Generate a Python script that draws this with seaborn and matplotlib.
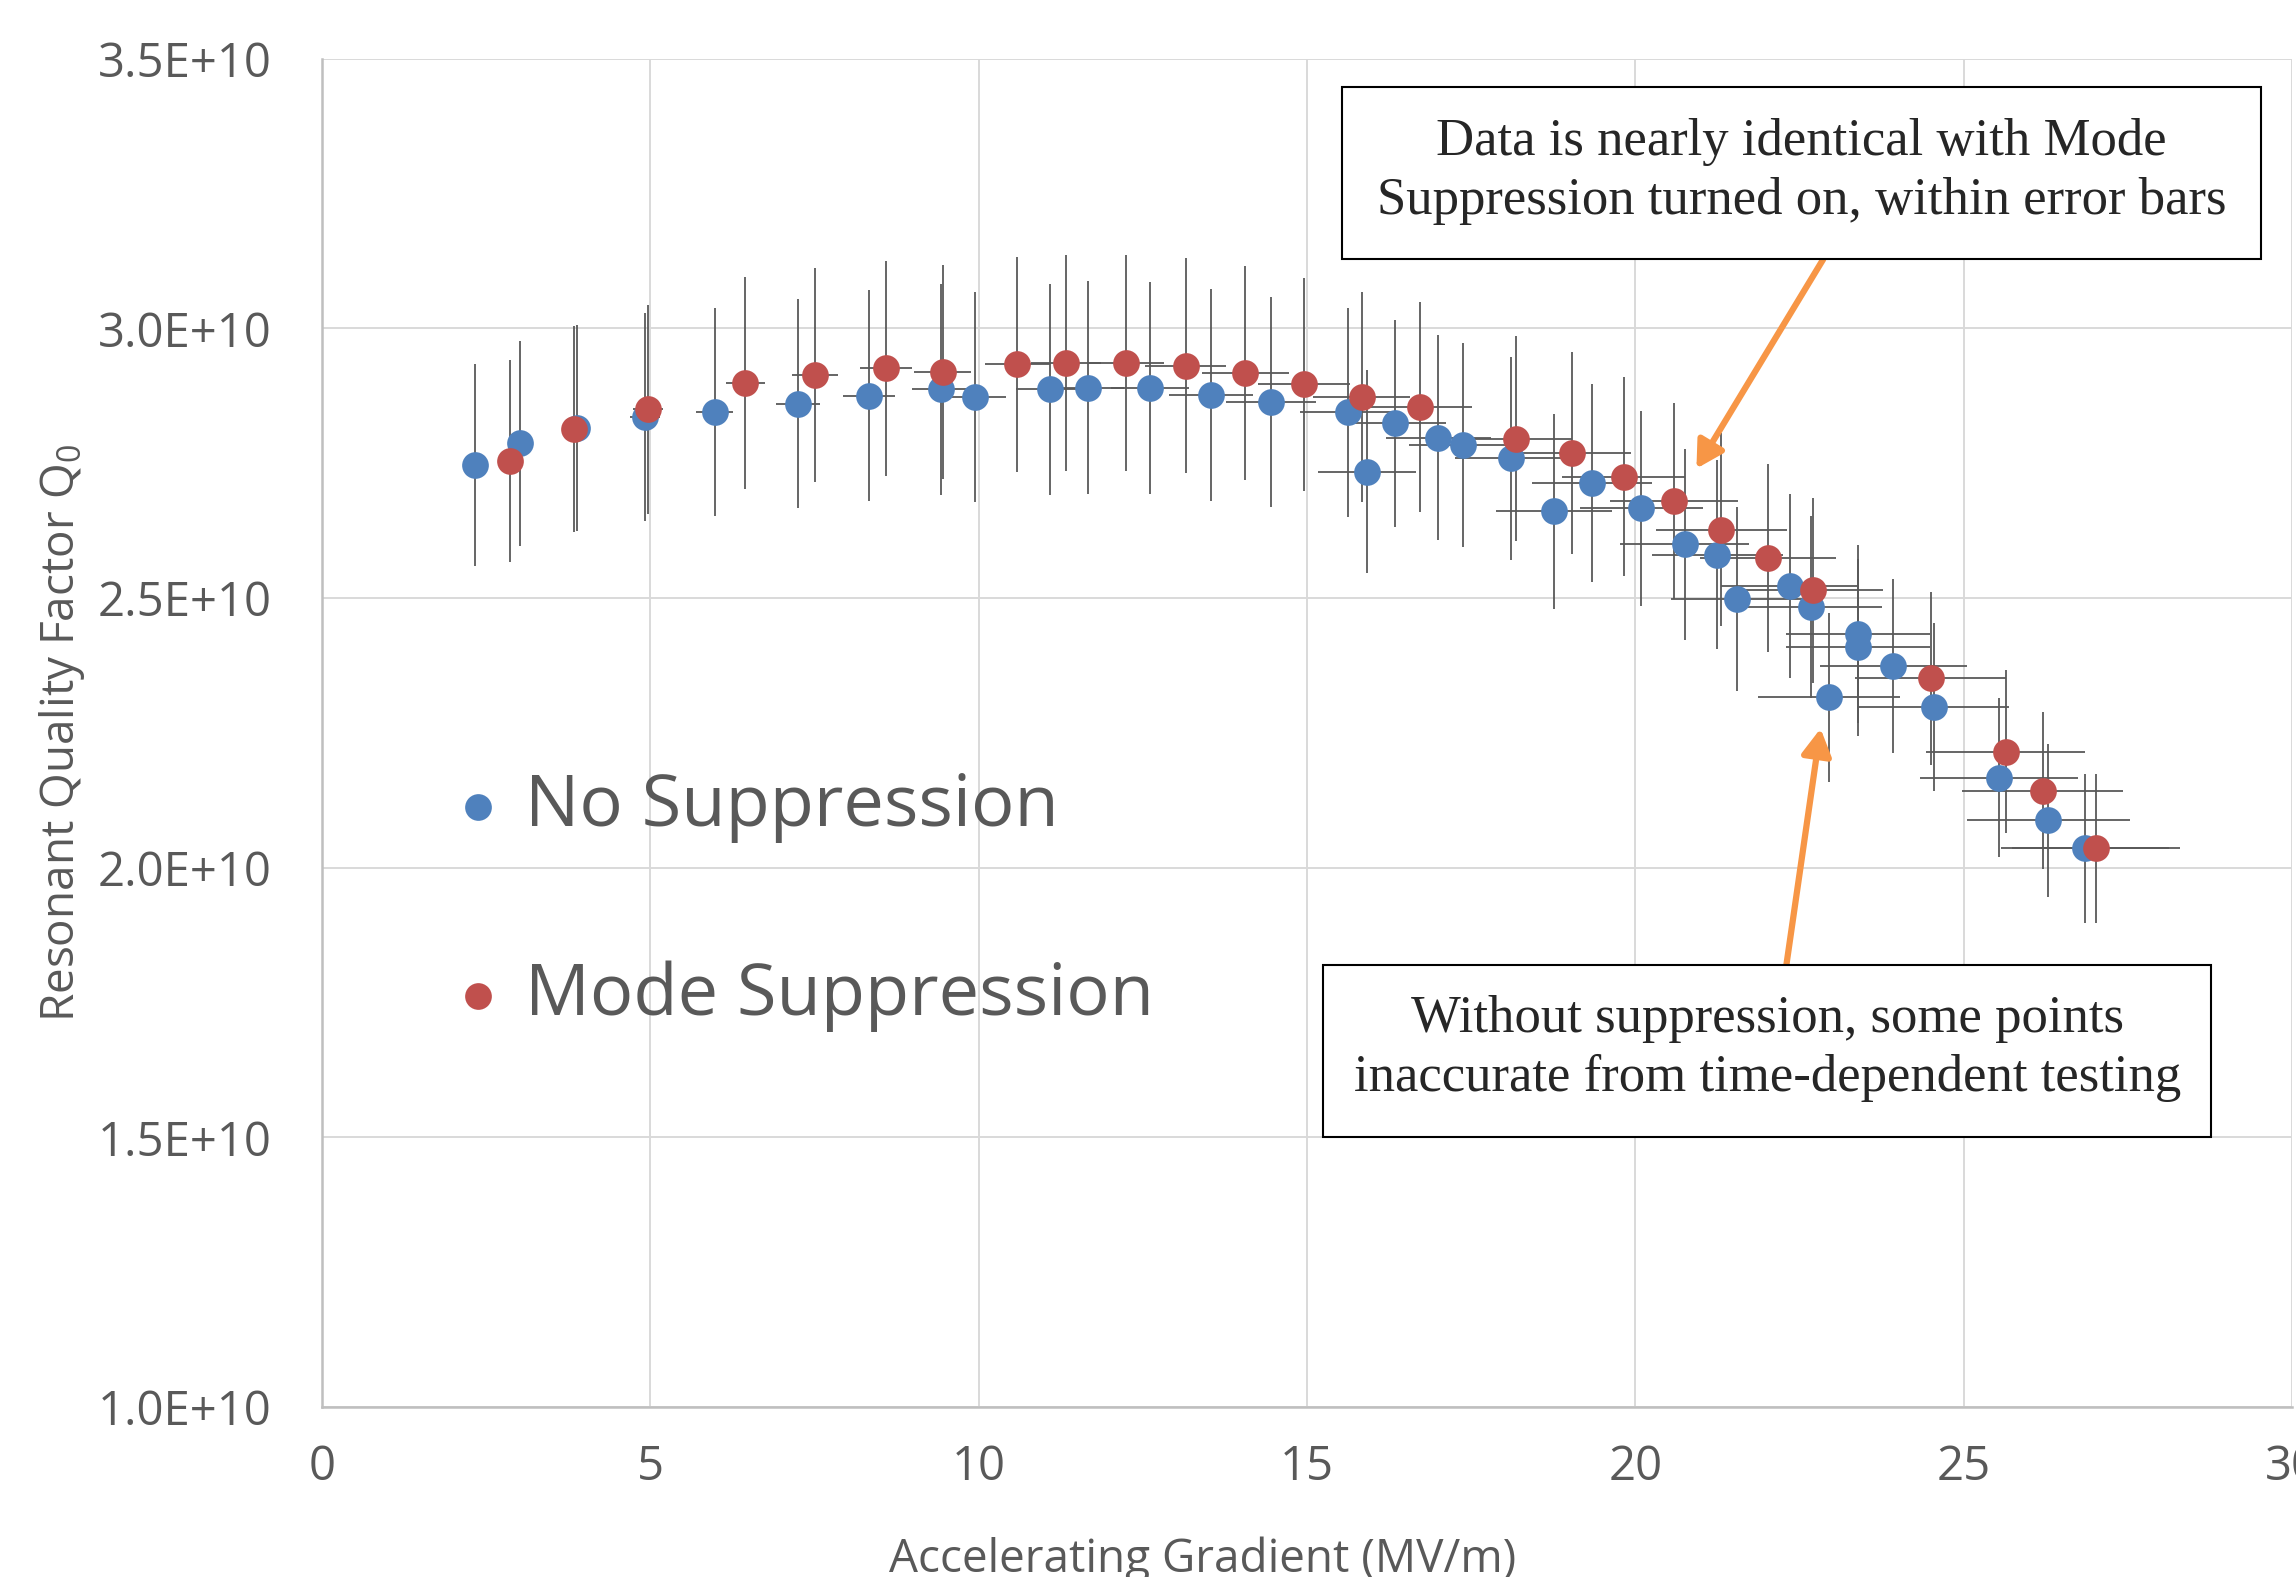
import matplotlib
matplotlib.use("Agg")
import matplotlib.pyplot as plt
from matplotlib.patches import Rectangle
from matplotlib.ticker import FuncFormatter, MultipleLocator
import seaborn as sns

# --------------------------
# Data
# --------------------------
# No Suppression (blue)
blue_e = [2.33, 3.01, 3.88, 4.92, 5.98, 7.25, 8.33, 9.43, 9.95, 11.09, 11.67, 12.61,
          13.54, 14.45, 15.62, 15.91, 16.34, 17.00, 17.37, 18.10, 18.76, 19.34, 20.09,
          20.75, 21.25, 21.55, 22.35, 22.68, 22.95, 23.39, 23.39, 23.93, 24.54, 25.54,
          26.29, 26.85]
blue_q = [2.746e10, 2.787e10, 2.816e10, 2.836e10, 2.845e10, 2.860e10, 2.875e10, 2.887e10,
          2.873e10, 2.887e10, 2.890e10, 2.889e10, 2.876e10, 2.864e10, 2.844e10, 2.734e10,
          2.824e10, 2.797e10, 2.783e10, 2.759e10, 2.661e10, 2.713e10, 2.666e10, 2.600e10,
          2.580e10, 2.498e10, 2.522e10, 2.483e10, 2.316e10, 2.433e10, 2.409e10, 2.374e10,
          2.298e10, 2.167e10, 2.088e10, 2.036e10]
blue_e_err = [0.11, 0.14, 0.18, 0.23, 0.28, 0.34, 0.39, 0.44, 0.47, 0.52, 0.55, 0.59,
              0.64, 0.68, 0.73, 0.75, 0.77, 0.80, 0.82, 0.85, 0.88, 0.91, 0.94, 0.98,
              1.00, 1.01, 1.05, 1.07, 1.08, 1.10, 1.10, 1.12, 1.15, 1.20, 1.24, 1.28]
blue_q_err = [1.87e9, 1.90e9, 1.91e9, 1.93e9, 1.93e9, 1.94e9, 1.96e9, 1.96e9, 1.95e9,
              1.96e9, 1.97e9, 1.96e9, 1.96e9, 1.95e9, 1.93e9, 1.88e9, 1.92e9, 1.90e9,
              1.89e9, 1.88e9, 1.81e9, 1.84e9, 1.81e9, 1.77e9, 1.75e9, 1.70e9, 1.71e9,
              1.69e9, 1.57e9, 1.65e9, 1.64e9, 1.61e9, 1.56e9, 1.47e9, 1.42e9, 1.38e9]

# Mode Suppression (red)
red_e = [2.86, 3.84, 4.97, 6.45, 7.51, 8.59, 9.45, 10.59, 11.33, 12.24, 13.15, 14.06,
         14.95, 15.83, 16.72, 18.19, 19.04, 19.82, 20.59, 21.31, 22.02, 22.70, 24.50,
         25.64, 26.20, 27.01]
red_q = [2.754e10, 2.813e10, 2.850e10, 2.899e10, 2.913e10, 2.926e10, 2.919e10, 2.933e10,
         2.936e10, 2.936e10, 2.931e10, 2.917e10, 2.896e10, 2.873e10, 2.854e10, 2.795e10,
         2.769e10, 2.725e10, 2.680e10, 2.627e10, 2.574e10, 2.514e10, 2.351e10, 2.215e10,
         2.143e10, 2.036e10]
red_e_err = [0.13, 0.18, 0.23, 0.30, 0.35, 0.40, 0.44, 0.50, 0.53, 0.58, 0.62, 0.66,
             0.70, 0.74, 0.79, 0.85, 0.89, 0.93, 0.97, 1.00, 1.03, 1.07, 1.15, 1.21,
             1.23, 1.28]
red_q_err = [1.87e9, 1.91e9, 1.94e9, 1.97e9, 1.98e9, 1.99e9, 1.98e9, 1.99e9, 2.00e9,
             2.00e9, 1.99e9, 1.98e9, 1.97e9, 1.95e9, 1.94e9, 1.90e9, 1.88e9, 1.85e9,
             1.82e9, 1.79e9, 1.75e9, 1.71e9, 1.60e9, 1.51e9, 1.46e9, 1.38e9]

note_top = "Data is nearly identical with Mode\nSuppression turned on, within error bars"
note_bottom = "Without suppression, some points\ninaccurate from time-dependent testing"

# --------------------------
# Style
# --------------------------
sns.set_theme(style="whitegrid")
plt.rcParams['font.family'] = ['Open Sans', 'DejaVu Sans']
GREY = "#595959"
BLUE = "#4F81BD"
RED = "#C0504D"
ORANGE = "#F79646"

fig, ax = plt.subplots(figsize=(22.96, 15.77), dpi=100)
fig.subplots_adjust(left=0.1402, right=0.9983, bottom=0.1078, top=0.9628)

# error bars behind the markers
ax.errorbar(blue_e, blue_q, xerr=blue_e_err, yerr=blue_q_err, fmt='none',
            ecolor=GREY, elinewidth=1.3, capsize=0, zorder=2)
ax.errorbar(red_e, red_q, xerr=red_e_err, yerr=red_q_err, fmt='none',
            ecolor=GREY, elinewidth=1.3, capsize=0, zorder=2)

sns.scatterplot(x=blue_e, y=blue_q, color=BLUE, s=370, linewidth=0,
                label="No Suppression", ax=ax, zorder=3)
sns.scatterplot(x=red_e, y=red_q, color=RED, s=370, linewidth=0,
                label="Mode Suppression", ax=ax, zorder=4)

ax.set_xlim(0, 30)
ax.set_ylim(1.0e10, 3.5e10)
ax.xaxis.set_major_locator(MultipleLocator(5))
ax.yaxis.set_major_locator(MultipleLocator(0.5e10))
ax.yaxis.set_major_formatter(FuncFormatter(lambda v, p: f"{v:.1E}"))

ax.set_axisbelow(True)
ax.grid(True, color="#D9D9D9", linewidth=1.4)
for side in ["top", "right"]:
    ax.spines[side].set_visible(False)
for side in ["left", "bottom"]:
    ax.spines[side].set_color("#BFBFBF")
    ax.spines[side].set_linewidth(1.8)

ax.tick_params(axis='y', length=0, pad=36, labelsize=34, labelcolor=GREY)
ax.tick_params(axis='x', length=0, pad=26, labelsize=34, labelcolor=GREY)

ax.set_xlabel("Accelerating Gradient (MV/m)", fontsize=33, color=GREY)
ax.xaxis.set_label_coords(0.447, -0.096)
ax.xaxis.label.set_va('top')
ax.set_ylabel(r"Resonant Quality Factor Q$_\mathregular{0}$", fontsize=33, color=GREY)
ax.yaxis.set_label_coords(-0.132, 0.5)
ax.yaxis.label.set_va('center')

leg = ax.legend(loc='center left', bbox_to_anchor=(0.035, 0.375), frameon=False,
                fontsize=52, handlelength=0.6, handletextpad=0.36, labelspacing=1.63,
                borderpad=0.4)
for t in leg.get_texts():
    t.set_color(GREY)

# --------------------------
# Annotations
# --------------------------
ax.add_patch(Rectangle((15.53, 3.128e10), 13.99, 0.319e10, facecolor="white",
                       edgecolor="black", linewidth=1.5, zorder=6))
ax.text(22.53, 3.29e10, note_top, ha='center', va='center', fontsize=38,
        family='Liberation Serif', linespacing=1.3, zorder=7)

ax.add_patch(Rectangle((15.25, 1.501e10), 13.52, 0.319e10, facecolor="white",
                       edgecolor="black", linewidth=1.5, zorder=6))
ax.text(22.01, 1.665e10, note_bottom, ha='center', va='center', fontsize=38,
        family='Liberation Serif', linespacing=1.3, zorder=7)

arrow = dict(arrowstyle='-|>,head_length=0.8,head_width=0.45', color=ORANGE, lw=4.5,
             shrinkA=0, shrinkB=0, mutation_scale=20)
ax.annotate("", xy=(20.93, 2.740e10), xytext=(22.86, 3.128e10), arrowprops=arrow, zorder=5)
ax.annotate("", xy=(22.82, 2.258e10), xytext=(22.30, 1.820e10), arrowprops=arrow, zorder=5)

plt.savefig("out.png", dpi=100)
